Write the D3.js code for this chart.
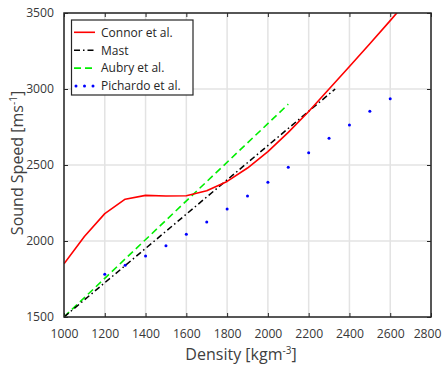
<!DOCTYPE html>
<html><head><meta charset="utf-8">
<script src="https://cdn.jsdelivr.net/npm/d3@7"></script>
<style>body{margin:0;background:#fff}svg{display:block}text{font-family:"Open Sans",sans-serif}</style>
</head><body><svg id="c" width="442" height="365"></svg>
<script>
const connorX = [1000,1100,1200,1300,1400,1500,1600,1700,1800,1900,2000,2100,2200,2300,2400,2500,2600,2640];
const connorY = [1850,2030,2180,2275,2300,2296,2298,2330,2392,2480,2588,2715,2852,3000,3148,3298,3450,3512];
const mastX = [1000,2330];
const mastY = [1500,3000];
const aubryX = [1000,2100];
const aubryY = [1500,2900];
const pichX = [1200,1300,1400,1500,1600,1700,1800,1900,2000,2100,2200,2300,2400,2500,2600];
const pichY = [1781,1840,1901,1969,2044,2125,2210,2296,2386,2485,2581,2676,2763,2853,2936];
const xTicks = [1000,1200,1400,1600,1800,2000,2200,2400,2600,2800];
const yTicks = [1500,2000,2500,3000,3500];
const legendNames = ["Connor et al.","Mast","Aubry et al.","Pichardo et al."];

const svg = d3.select("#c");
const L=64,R=431,T=13,B=317;
const x = d3.scaleLinear().domain([1000,2800]).range([L,R]);
const y = d3.scaleLinear().domain([1500,3500]).range([B,T]);
const axisCol="#262626";

// grid
svg.append("g").selectAll("line").data(xTicks).join("line")
  .attr("x1",d=>x(d)).attr("x2",d=>x(d)).attr("y1",T).attr("y2",B)
  .attr("stroke","#e3e3e3").attr("stroke-width",1.5);
svg.append("g").selectAll("line").data(yTicks).join("line")
  .attr("y1",d=>y(d)).attr("y2",d=>y(d)).attr("x1",L).attr("x2",R)
  .attr("stroke","#e3e3e3").attr("stroke-width",1.5);

// axes
const fmt = d3.format("d");
const styleAxis = g => {
  g.select(".domain").remove();
  g.selectAll(".tick line").attr("stroke",axisCol).attr("stroke-width",1);
  g.selectAll(".tick text").attr("fill","#383838").style("font-size","12.2px").style("font-family","Open Sans");
};
const xg = svg.append("g").attr("transform",`translate(0,${B})`)
  .call(d3.axisBottom(x).tickValues(xTicks).tickFormat(fmt).tickSizeInner(-4).tickSizeOuter(0).tickPadding(12))
  .call(styleAxis);
xg.selectAll(".tick text").filter(d=>d===2800).attr("text-anchor","end").attr("x",10);
svg.append("g").attr("transform",`translate(${L},0)`)
  .call(d3.axisLeft(y).tickValues(yTicks).tickFormat(fmt).tickSizeInner(-4).tickSizeOuter(0).tickPadding(10))
  .call(styleAxis);
svg.append("g").attr("transform",`translate(0,${T})`)
  .call(d3.axisTop(x).tickValues(xTicks).tickFormat("").tickSizeInner(-4).tickSizeOuter(0))
  .call(styleAxis);
svg.append("g").attr("transform",`translate(${R},0)`)
  .call(d3.axisRight(y).tickValues(yTicks).tickFormat("").tickSizeInner(-4).tickSizeOuter(0))
  .call(styleAxis);

// clip
svg.append("clipPath").attr("id","clip").append("rect").attr("x",L).attr("y",T).attr("width",R-L).attr("height",B-T);
const plot = svg.append("g").attr("clip-path","url(#clip)");
const line = d3.line().x(d=>x(d[0])).y(d=>y(d[1]));

plot.append("path").datum(d3.zip(aubryX,aubryY)).attr("d",line)
  .attr("fill","none").attr("stroke","#00ee00").attr("stroke-width",1.6).attr("stroke-dasharray","7,4");
plot.append("path").datum(d3.zip(mastX,mastY)).attr("d",line)
  .attr("fill","none").attr("stroke","#000").attr("stroke-width",1.5).attr("stroke-dasharray","6,3,1.5,3");
plot.append("path").datum(d3.zip(connorX,connorY)).attr("d",line)
  .attr("fill","none").attr("stroke","#ff0000").attr("stroke-width",1.6).attr("stroke-linejoin","round");
plot.append("g").selectAll("circle").data(d3.zip(pichX,pichY)).join("circle")
  .attr("cx",d=>x(d[0])).attr("cy",d=>y(d[1])).attr("r",1.5).attr("fill","#0000ff");

// frame
svg.append("rect").attr("x",L).attr("y",T).attr("width",R-L).attr("height",B-T)
  .attr("fill","none").attr("stroke",axisCol).attr("stroke-width",1.5);

// labels
svg.append("text").attr("x",241).attr("y",360).attr("text-anchor","middle")
  .attr("fill","#404040").style("font-size","16px")
  .html('Density [kgm<tspan dy="-6" style="font-size:10px">-3</tspan><tspan dy="6">]</tspan>');
svg.append("text").attr("transform","translate(23,163) rotate(-90)").attr("text-anchor","middle")
  .attr("fill","#404040").style("font-size","16px")
  .html('Sound Speed [ms<tspan dy="-6" style="font-size:10px">-1</tspan><tspan dy="6">]</tspan>');

// legend
const lg = svg.append("g");
lg.append("rect").attr("x",71.5).attr("y",20).attr("width",121.5).attr("height",75)
  .attr("fill","#fff").attr("stroke",axisCol).attr("stroke-width",1.2);
const styles = [
  {c:"#ff0000",dash:null},
  {c:"#000",dash:"6,3,1.5,3"},
  {c:"#00ee00",dash:"7,4"},
  {c:"#0000ff",dots:true}
];
legendNames.forEach((n,i)=>{
  const yy = 32.3 + i*17.9;
  const s = styles[i];
  if(s.dots){
    [76,84.5,93].forEach(cx=>lg.append("circle").attr("cx",cx).attr("cy",yy).attr("r",1.5).attr("fill",s.c));
  } else {
    lg.append("line").attr("x1",74).attr("x2",95).attr("y1",yy).attr("y2",yy)
      .attr("stroke",s.c).attr("stroke-width",1.6).attr("stroke-dasharray",s.dash);
  }
  lg.append("text").attr("x",101).attr("y",yy+4.3).attr("fill","#262626").style("font-size","12px").text(n);
});
</script></body></html>
